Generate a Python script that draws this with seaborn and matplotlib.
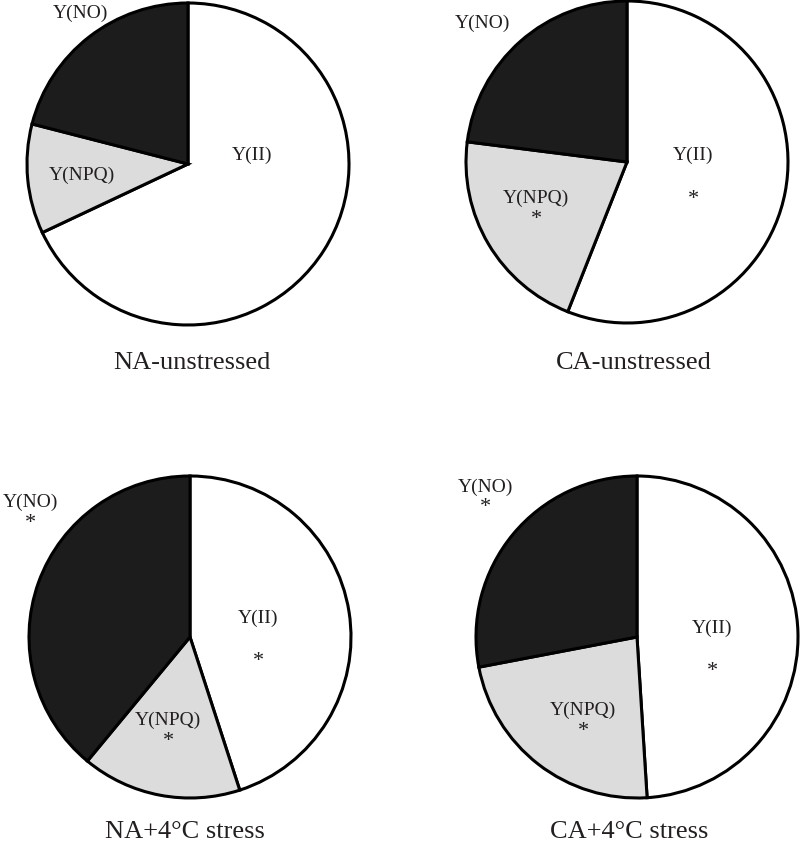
"""Chlorophyll fluorescence quantum yield partitioning: Y(II), Y(NPQ), Y(NO) pies"""
import matplotlib
matplotlib.use('Agg')
import matplotlib.pyplot as plt
import seaborn as sns

# --- data (fractions) ---
components = ['Y(II)', 'Y(NPQ)', 'Y(NO)']
panels = ['NA-unstressed', 'CA-unstressed', 'NA+4°C stress', 'CA+4°C stress']
y_ii = [0.68, 0.56, 0.45, 0.49]
y_npq = [0.11, 0.21, 0.16, 0.23]
y_no = [0.21, 0.23, 0.39, 0.28]
# significance marks (*) per component
sig_ii = [False, True, True, True]
sig_npq = [False, True, True, True]
sig_no = [False, False, True, True]

sns.set_theme(style='white')
plt.rcParams['font.family'] = ['Liberation Serif', 'DejaVu Serif']
colors = ['#ffffff', '#dcdcdc', '#1c1c1c']
txt_col = '#231f20'

# layout in pixels (x, y measured from the top)
H = 843
centers = [(188, 164), (627, 162), (190, 637), (637, 637)]
radius = 161
title_pos = [(192, 369), (634, 369), (185, 838), (629, 838)]
lab_pos = [
    [(252, 155), (82, 175), (80, 13)],
    [(693, 155), (536, 198), (482, 23)],
    [(258, 618), (168, 720), (30, 502)],
    [(712, 628), (583, 710), (485, 487)],
]
star_drop = [44, 21, 21]

fig = plt.figure(figsize=(8, 8.43), dpi=100)
ax = fig.add_axes([0, 0, 1, 1])

for i, name in enumerate(panels):
    cx, cy = centers[i]
    vals = [y_ii[i], y_npq[i], y_no[i]]
    ax.pie(vals, colors=colors, startangle=90, counterclock=False,
           center=(cx, H - cy), radius=radius,
           wedgeprops=dict(edgecolor='black', linewidth=2.2))
    sigs = [sig_ii[i], sig_npq[i], sig_no[i]]
    for k, (comp, (lx, ly), s) in enumerate(zip(components, lab_pos[i], sigs)):
        ax.text(lx, H - ly, comp, ha='center', va='center', fontsize=14, color=txt_col)
        if s:
            ax.text(lx, H - ly - star_drop[k], '*', ha='center', va='center',
                    fontsize=16, color=txt_col)
    tx, ty = title_pos[i]
    ax.text(tx, H - ty, name, ha='center', va='baseline', fontsize=19, color=txt_col)

ax.set_xlim(0, 800)
ax.set_ylim(0, H)
ax.set_aspect('auto')
ax.axis('off')

fig.savefig('out.png', dpi=100)
plt.close()
